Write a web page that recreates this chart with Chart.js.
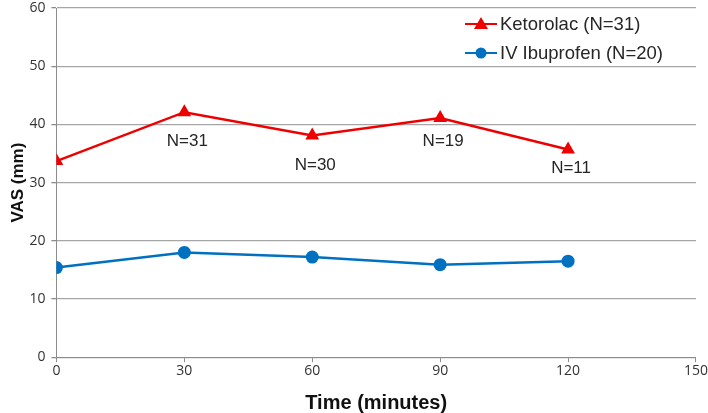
<!DOCTYPE html>
<html>
<head>
<meta charset="utf-8">
<script src="https://cdn.jsdelivr.net/npm/chart.js@4"></script>
<style>
  html, body { margin: 0; padding: 0; background: #fff; }
  #wrap { width: 708px; height: 413px; }
</style>
</head>
<body>
<div id="wrap"><canvas id="chart"></canvas></div>
<script>
// data
const minutos = [0, 30, 60, 90, 120];
const ketorolac = [33.7, 42.1, 38.1, 41.1, 35.7];
const ibuprofeno = [15.4, 18.0, 17.2, 15.9, 16.5];
const etiquetas_n = ['N=31', 'N=30', 'N=19', 'N=11'];
const etiquetas_n_x = [30, 60, 90, 120];
const etiquetas_n_y = [37.1, 32.9, 37.1, 32.5];
const leyenda = ['Ketorolac (N=31)', 'IV Ibuprofen (N=20)'];

const rojo = '#ee0000';
const azul = '#0070c0';

const a_puntos = (xs, ys) => xs.map((x, i) => ({ x: x, y: ys[i] }));

// N= labels under the ketorolac line, placed with the scales
const plugin_etiquetas = {
    id: 'etiquetas_n',
    afterDatasetsDraw(chart) {
        const ctx = chart.ctx;
        const sx = chart.scales.x, sy = chart.scales.y;
        ctx.save();
        ctx.font = '17px "Liberation Sans", Arial, sans-serif';
        ctx.fillStyle = '#262626';
        ctx.textAlign = 'center';
        ctx.textBaseline = 'middle';
        etiquetas_n.forEach((t, i) => {
            ctx.fillText(t, sx.getPixelForValue(etiquetas_n_x[i]) + 3, sy.getPixelForValue(etiquetas_n_y[i]));
        });
        ctx.restore();
    }
};

// legend drawn inside the plot, top right, with line + marker samples
const plugin_leyenda = {
    id: 'leyenda_interna',
    afterDraw(chart) {
        const ctx = chart.ctx;
        const area = chart.chartArea;
        const x0 = area.right - 231;
        const filas = [area.top + 16, area.top + 45];
        const colores = [rojo, azul];
        ctx.save();
        filas.forEach((y, i) => {
            ctx.strokeStyle = colores[i];
            ctx.lineWidth = 2;
            ctx.beginPath();
            ctx.moveTo(x0, y);
            ctx.lineTo(x0 + 32, y);
            ctx.stroke();
            ctx.fillStyle = colores[i];
            ctx.beginPath();
            if (i === 0) {
                ctx.moveTo(x0 + 16, y - 7);
                ctx.lineTo(x0 + 23, y + 5);
                ctx.lineTo(x0 + 9, y + 5);
                ctx.closePath();
            } else {
                ctx.arc(x0 + 16, y, 5.5, 0, Math.PI * 2);
            }
            ctx.fill();
            ctx.fillStyle = '#262626';
            ctx.font = '18.5px "Liberation Sans", Arial, sans-serif';
            ctx.textBaseline = 'middle';
            ctx.fillText(leyenda[i], x0 + 35, y + 1);
        });
        ctx.restore();
    }
};

new Chart(document.getElementById('chart'), {
    type: 'line',
    plugins: [plugin_etiquetas, plugin_leyenda],
    data: {
        datasets: [
            {
                label: leyenda[0],
                data: a_puntos(minutos, ketorolac),
                borderColor: rojo,
                backgroundColor: rojo,
                borderWidth: 2.5,
                pointStyle: 'triangle',
                pointRadius: 8,
                pointBorderWidth: 0,
                tension: 0
            },
            {
                label: leyenda[1],
                data: a_puntos(minutos, ibuprofeno),
                borderColor: azul,
                backgroundColor: azul,
                borderWidth: 2.5,
                pointStyle: 'circle',
                pointRadius: 6.5,
                pointBorderWidth: 0,
                tension: 0
            }
        ]
    },
    options: {
        responsive: true,
        maintainAspectRatio: false,
        animation: false,
        layout: { padding: { top: 7, right: 12, left: 8, bottom: 0 } },
        plugins: {
            legend: { display: false },
            tooltip: { enabled: false }
        },
        scales: {
            x: {
                type: 'linear',
                min: 0,
                max: 150,
                ticks: { stepSize: 30, color: '#333', font: { family: '"Open Sans", sans-serif', size: 14 }, padding: 0 },
                grid: { color: 'rgba(0,0,0,0)', tickColor: '#8c8c8c', tickLength: 5 },
                border: { color: '#8c8c8c', width: 1 },
                title: { display: true, text: 'Time (minutes)', color: '#111', padding: { top: 14, bottom: 0 },
                         font: { family: '"Liberation Sans Narrow", "Liberation Sans", Arial, sans-serif', size: 20, weight: 'bold', lineHeight: 1 } }
            },
            y: {
                min: 0,
                max: 60,
                afterFit: (escala) => { escala.paddingTop = 0; },
                ticks: { stepSize: 10, color: '#333', font: { family: '"Open Sans", sans-serif', size: 14 }, padding: 6 },
                grid: { color: '#a6a6a6', tickColor: '#8c8c8c', tickLength: 5, lineWidth: 1.3 },
                border: { color: '#8c8c8c', width: 1 },
                title: { display: true, text: 'VAS (mm)', color: '#111', padding: { top: 0, bottom: -5 },
                         font: { family: '"Liberation Sans", Arial, sans-serif', size: 17, weight: 'bold' } }
            }
        }
    }
});
</script>
</body>
</html>
